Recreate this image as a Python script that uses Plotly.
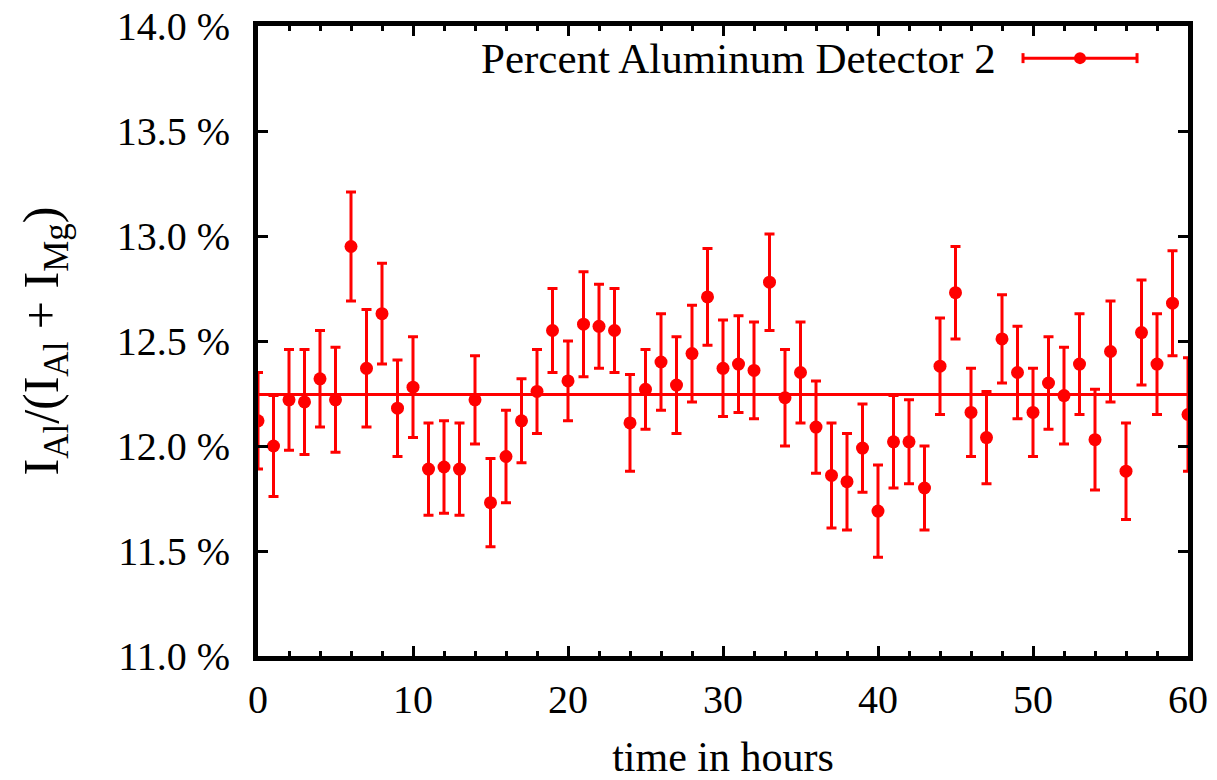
import plotly.graph_objects as go

hours = list(range(61))
percent_al = [12.12, 12.00, 12.22, 12.21, 12.32, 12.22, 12.95, 12.37, 12.63, 12.18,
              12.28, 11.89, 11.90, 11.89, 12.22, 11.73, 11.95, 12.12, 12.26, 12.55,
              12.31, 12.58, 12.57, 12.55, 12.11, 12.27, 12.40, 12.29, 12.44, 12.71,
              12.37, 12.39, 12.36, 12.78, 12.23, 12.35, 12.09, 11.86, 11.83, 11.99,
              11.69, 12.02, 12.02, 11.80, 12.38, 12.73, 12.16, 12.04, 12.51, 12.35,
              12.16, 12.30, 12.24, 12.39, 12.03, 12.45, 11.88, 12.54, 12.39, 12.68,
              12.15]
errors = [0.23, 0.24, 0.24, 0.25, 0.23, 0.25, 0.26, 0.28, 0.24, 0.23,
          0.24, 0.22, 0.22, 0.22, 0.21, 0.21, 0.22, 0.20, 0.20, 0.20,
          0.19, 0.25, 0.20, 0.20, 0.23, 0.19, 0.23, 0.23, 0.23, 0.23,
          0.23, 0.23, 0.23, 0.23, 0.23, 0.24, 0.22, 0.25, 0.23, 0.21,
          0.22, 0.22, 0.20, 0.20, 0.23, 0.22, 0.21, 0.22, 0.21, 0.22,
          0.21, 0.22, 0.23, 0.24, 0.24, 0.24, 0.23, 0.25, 0.24, 0.25,
          0.27]
fit_value = 12.245
fit_x = [0, 60]
legend_label = "Percent Aluminum Detector 2"

RED = "#ff0000"
FONT = "Liberation Serif"

fig = go.Figure()
fig.add_trace(go.Scatter(
    x=fit_x, y=[fit_value] * len(fit_x), mode="lines",
    line=dict(color=RED, width=3), showlegend=False, hoverinfo="skip"))
fig.add_trace(go.Scatter(
    x=hours, y=percent_al, mode="markers",
    marker=dict(color=RED, size=13),
    error_y=dict(type="data", array=errors, visible=True, color=RED,
                 thickness=3, width=5),
    showlegend=False, name=legend_label))

# manual legend (gnuplot style: errorbar sample with point)
lx0, lx1, lxm, ly = 0.8226, 0.9452, 0.8839, 0.949
shapes = [
    dict(type="line", xref="paper", yref="paper", x0=lx0, x1=lx1, y0=ly, y1=ly,
         line=dict(color=RED, width=3)),
    dict(type="line", xref="paper", yref="paper", xsizemode="scaled", ysizemode="pixel",
         yanchor=ly, x0=lx0, x1=lx0, y0=-5, y1=5, line=dict(color=RED, width=3)),
    dict(type="line", xref="paper", yref="paper", xsizemode="scaled", ysizemode="pixel",
         yanchor=ly, x0=lx1, x1=lx1, y0=-5, y1=5, line=dict(color=RED, width=3)),
    dict(type="circle", xref="paper", yref="paper", xsizemode="pixel", ysizemode="pixel",
         xanchor=lxm, yanchor=ly, x0=-6, x1=6, y0=-6, y1=6,
         fillcolor=RED, line=dict(color=RED, width=0)),
]

fig.update_layout(
    width=1217, height=780,
    margin=dict(l=258, r=29, t=26, b=124),
    paper_bgcolor="white", plot_bgcolor="white",
    font=dict(family=FONT, color="black", size=40),
    shapes=shapes,
    annotations=[dict(text=legend_label, xref="paper", yref="paper",
                      x=0.796, y=ly, xanchor="right", yanchor="middle",
                      showarrow=False, font=dict(family=FONT, size=43, color="black"))],
    xaxis=dict(
        range=[0, 60], tick0=0, dtick=10, showgrid=False, zeroline=False,
        showline=True, linecolor="black", linewidth=5, mirror="allticks",
        ticks="inside", ticklen=10, tickwidth=3, tickcolor="black",
        tickfont=dict(family=FONT, size=40), ticklabelstandoff=4,
        minor=dict(ticks="inside", dtick=2, ticklen=5, tickwidth=3, tickcolor="black", showgrid=False),
        title=dict(text="time in hours", font=dict(family=FONT, size=42), standoff=26),
        automargin=False,
    ),
    yaxis=dict(
        range=[11, 14], tick0=11, dtick=0.5, tickformat=".1f", ticksuffix=" %",
        showgrid=False, zeroline=False,
        showline=True, linecolor="black", linewidth=5, mirror="allticks",
        ticks="inside", ticklen=10, tickwidth=3, tickcolor="black",
        tickfont=dict(family=FONT, size=40), ticklabelstandoff=15,
        title=dict(text="I<sub>Al</sub>/(I<sub>Al</sub> + I<sub>Mg</sub>)",
                   font=dict(family=FONT, size=50), standoff=44),
        automargin=False,
    ),
)

fig.write_html("out.html")
